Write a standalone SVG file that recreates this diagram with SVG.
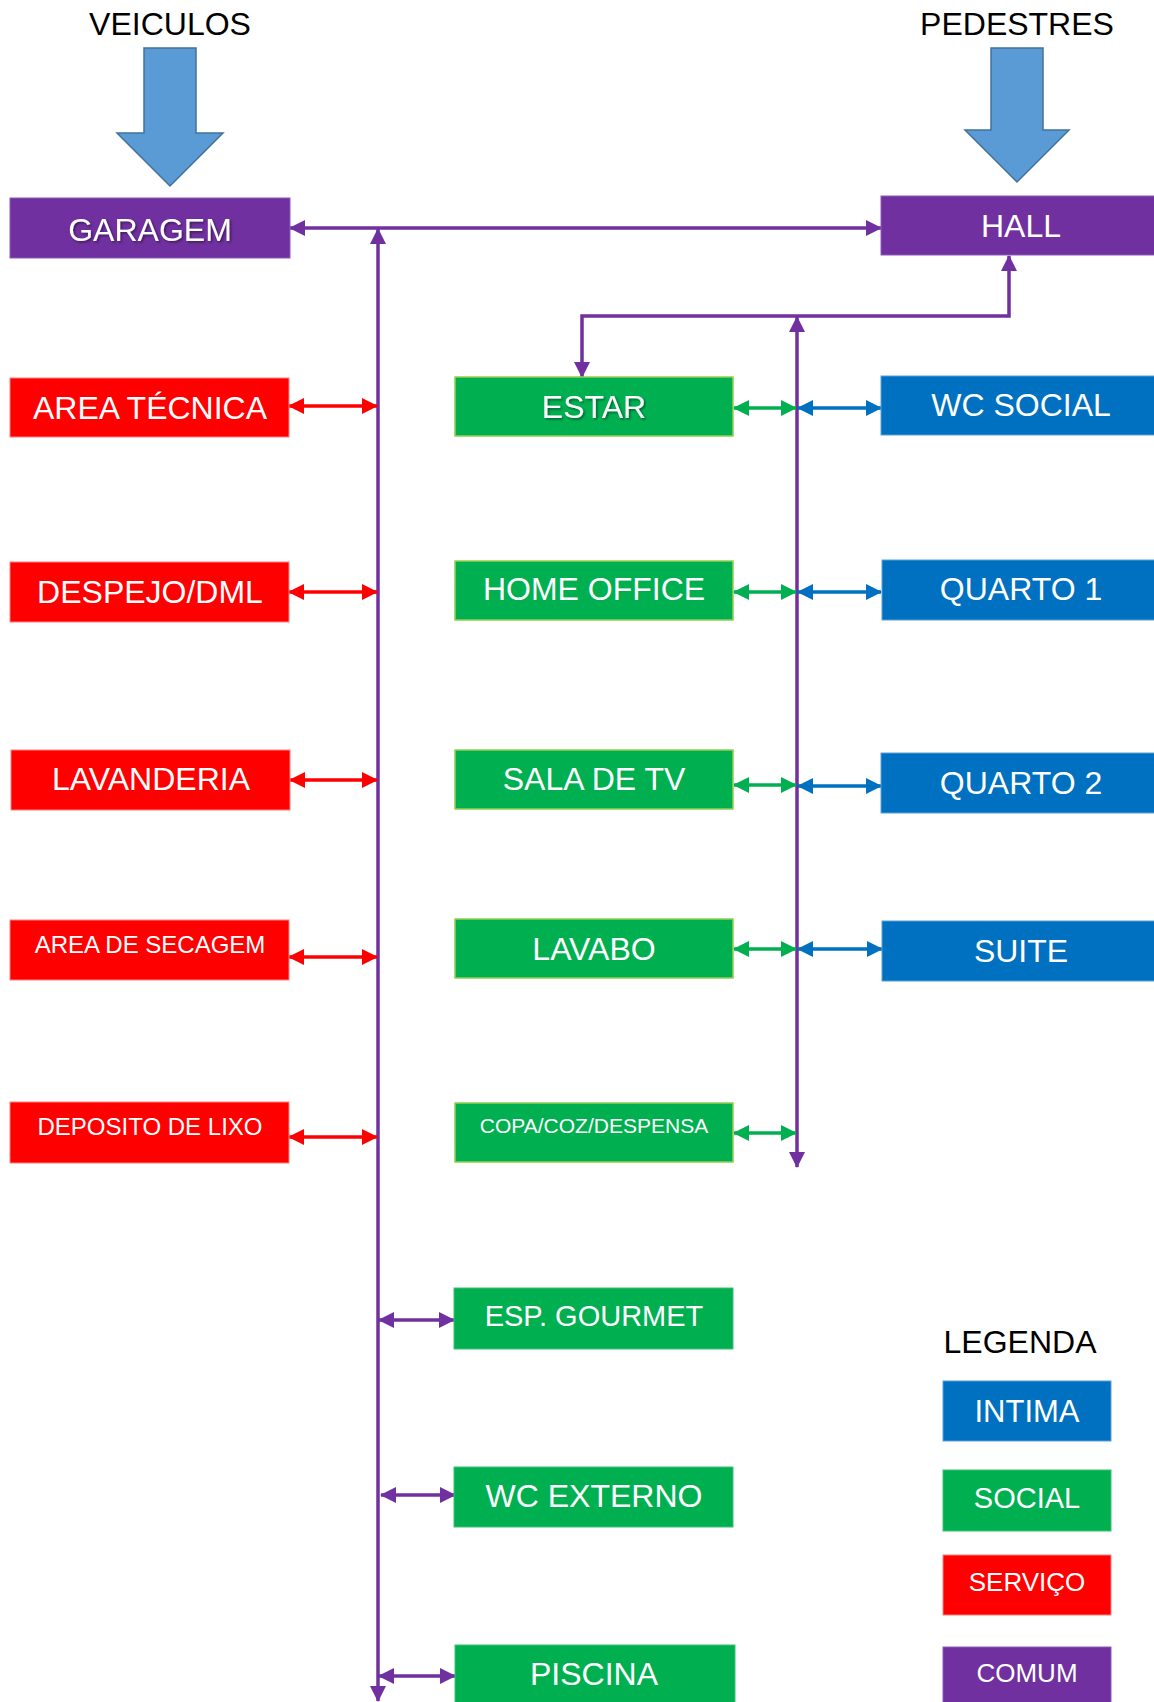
<svg xmlns="http://www.w3.org/2000/svg" width="1154" height="1702" viewBox="0 0 1154 1702">
<style>
text{font-family:"Liberation Sans",Arial,sans-serif;text-anchor:middle}
.lbl{fill:#fff;font-size:32px}
.hdr{fill:#000;font-size:32px}
.purple{fill:#7030A0;stroke:#8E5BB8;stroke-width:1}
.red{fill:#FF0000;stroke:#FF8080;stroke-width:1}
.green{fill:#00B050;stroke:#92D050;stroke-width:1.5}
.green2{fill:#00B050;stroke:#3CC070;stroke-width:1}
.blue{fill:#0070C0;stroke:#5A9FD6;stroke-width:1}
.bigarrow{fill:#5B9BD5;stroke:#41719C;stroke-width:1.5}
.cp{stroke:#7030A0;stroke-width:3.5;fill:none}
.cr{stroke:#FF0000;stroke-width:3.5;fill:none}
.cg{stroke:#00B050;stroke-width:3.5;fill:none}
.cb{stroke:#0070C0;stroke-width:3.5;fill:none}
</style>
<defs>
<marker id="mp" viewBox="0 0 16 16" refX="15" refY="8" markerWidth="16" markerHeight="16" markerUnits="userSpaceOnUse" orient="auto-start-reverse"><path d="M0,0 L16,8 L0,16 z" fill="#7030A0"/></marker>
<marker id="mr" viewBox="0 0 16 16" refX="15" refY="8" markerWidth="16" markerHeight="16" markerUnits="userSpaceOnUse" orient="auto-start-reverse"><path d="M0,0 L16,8 L0,16 z" fill="#FF0000"/></marker>
<marker id="mg" viewBox="0 0 16 16" refX="15" refY="8" markerWidth="16" markerHeight="16" markerUnits="userSpaceOnUse" orient="auto-start-reverse"><path d="M0,0 L16,8 L0,16 z" fill="#00B050"/></marker>
<marker id="mb" viewBox="0 0 16 16" refX="15" refY="8" markerWidth="16" markerHeight="16" markerUnits="userSpaceOnUse" orient="auto-start-reverse"><path d="M0,0 L16,8 L0,16 z" fill="#0070C0"/></marker>
<filter id="sh" x="-10%" y="-20%" width="120%" height="150%"><feDropShadow dx="1.5" dy="1.5" stdDeviation="0.8" flood-color="#000" flood-opacity="0.45"/></filter>
</defs>
<rect width="1154" height="1702" fill="#fff"/>

<g id="veiculos">
<text class="hdr" x="170" y="35">VEICULOS</text>
<polygon class="bigarrow" points="144,48 196,48 196,133 223,133 170,186 117,133 144,133"/>
</g>
<g id="pedestres">
<text class="hdr" x="1017" y="35">PEDESTRES</text>
<polygon class="bigarrow" points="991,48 1043,48 1043,130 1069,130 1017,182 965,130 991,130"/>
</g>

<g id="connectors">
<line class="cp" x1="290" y1="228" x2="881" y2="228" marker-start="url(#mp)" marker-end="url(#mp)"/>
<line class="cp" x1="378" y1="229" x2="378" y2="1701" marker-start="url(#mp)" marker-end="url(#mp)"/>
<path class="cp" d="M1009,256 V316 H582 V377" marker-start="url(#mp)" marker-end="url(#mp)"/>
<line class="cp" x1="797" y1="317" x2="797" y2="1167" marker-start="url(#mp)" marker-end="url(#mp)"/>
<line class="cr" x1="289" y1="406" x2="377" y2="406" marker-start="url(#mr)" marker-end="url(#mr)"/>
<line class="cr" x1="289" y1="592" x2="377" y2="592" marker-start="url(#mr)" marker-end="url(#mr)"/>
<line class="cr" x1="290" y1="780" x2="377" y2="780" marker-start="url(#mr)" marker-end="url(#mr)"/>
<line class="cr" x1="289" y1="957" x2="377" y2="957" marker-start="url(#mr)" marker-end="url(#mr)"/>
<line class="cr" x1="289" y1="1137" x2="377" y2="1137" marker-start="url(#mr)" marker-end="url(#mr)"/>
<line class="cg" x1="734" y1="408" x2="796" y2="408" marker-start="url(#mg)" marker-end="url(#mg)"/>
<line class="cg" x1="734" y1="592" x2="796" y2="592" marker-start="url(#mg)" marker-end="url(#mg)"/>
<line class="cg" x1="734" y1="785" x2="796" y2="785" marker-start="url(#mg)" marker-end="url(#mg)"/>
<line class="cg" x1="734" y1="949" x2="796" y2="949" marker-start="url(#mg)" marker-end="url(#mg)"/>
<line class="cg" x1="734" y1="1133" x2="796" y2="1133" marker-start="url(#mg)" marker-end="url(#mg)"/>
<line class="cb" x1="798" y1="408" x2="881" y2="408" marker-start="url(#mb)" marker-end="url(#mb)"/>
<line class="cb" x1="798" y1="592" x2="881" y2="592" marker-start="url(#mb)" marker-end="url(#mb)"/>
<line class="cb" x1="798" y1="786" x2="881" y2="786" marker-start="url(#mb)" marker-end="url(#mb)"/>
<line class="cb" x1="798" y1="949" x2="882" y2="949" marker-start="url(#mb)" marker-end="url(#mb)"/>
<line class="cp" x1="379" y1="1320" x2="454" y2="1320" marker-start="url(#mp)" marker-end="url(#mp)"/>
<line class="cp" x1="381" y1="1495" x2="455" y2="1495" marker-start="url(#mp)" marker-end="url(#mp)"/>
<line class="cp" x1="379" y1="1676" x2="455" y2="1676" marker-start="url(#mp)" marker-end="url(#mp)"/>
</g>

<g id="garagem"><rect class="purple" x="10" y="198" width="280" height="60"/><text class="lbl" x="150" y="241" filter="url(#sh)">GARAGEM</text></g>
<g id="hall"><rect class="purple" x="881" y="196" width="280" height="59"/><text class="lbl" x="1021" y="237">HALL</text></g>

<g id="area-tecnica"><rect class="red" x="10" y="378" width="279" height="59"/><text class="lbl" x="150" y="419">AREA TÉCNICA</text></g>
<g id="despejo"><rect class="red" x="10" y="562" width="279" height="60"/><text class="lbl" x="150" y="603">DESPEJO/DML</text></g>
<g id="lavanderia"><rect class="red" x="11" y="750" width="279" height="60"/><text class="lbl" x="151" y="790">LAVANDERIA</text></g>
<g id="area-secagem"><rect class="red" x="10" y="920" width="279" height="60"/><text class="lbl" x="150" y="953" style="font-size:24px">AREA DE SECAGEM</text></g>
<g id="deposito-lixo"><rect class="red" x="10" y="1102" width="279" height="61"/><text class="lbl" x="150" y="1135" style="font-size:24px">DEPOSITO DE LIXO</text></g>

<g id="estar"><rect class="green" x="455" y="377" width="278" height="59"/><text class="lbl" x="594" y="418" filter="url(#sh)">ESTAR</text></g>
<g id="home-office"><rect class="green" x="455" y="561" width="278" height="59"/><text class="lbl" x="594" y="600">HOME OFFICE</text></g>
<g id="sala-tv"><rect class="green" x="455" y="750" width="278" height="59"/><text class="lbl" x="594" y="790">SALA DE TV</text></g>
<g id="lavabo"><rect class="green" x="455" y="919" width="278" height="59"/><text class="lbl" x="594" y="960">LAVABO</text></g>
<g id="copa"><rect class="green" x="455" y="1103" width="278" height="59"/><text class="lbl" x="594" y="1133" style="font-size:21px">COPA/COZ/DESPENSA</text></g>
<g id="esp-gourmet"><rect class="green2" x="454" y="1288" width="279" height="61"/><text class="lbl" x="594" y="1326" style="font-size:29px">ESP. GOURMET</text></g>
<g id="wc-externo"><rect class="green2" x="454" y="1467" width="279" height="60"/><text class="lbl" x="594" y="1507">WC EXTERNO</text></g>
<g id="piscina"><rect class="green2" x="455" y="1645" width="280" height="60"/><text class="lbl" x="594" y="1685">PISCINA</text></g>

<g id="wc-social"><rect class="blue" x="881" y="376" width="280" height="59"/><text class="lbl" x="1021" y="416">WC SOCIAL</text></g>
<g id="quarto1"><rect class="blue" x="882" y="560" width="280" height="60"/><text class="lbl" x="1021" y="600">QUARTO 1</text></g>
<g id="quarto2"><rect class="blue" x="881" y="753" width="280" height="60"/><text class="lbl" x="1021" y="794">QUARTO 2</text></g>
<g id="suite"><rect class="blue" x="882" y="921" width="280" height="60"/><text class="lbl" x="1021" y="962">SUITE</text></g>

<g id="legenda">
<text class="hdr" x="1020" y="1353">LEGENDA</text>
<rect class="blue" x="943" y="1381" width="168" height="60"/><text class="lbl" x="1027" y="1422" style="font-size:31px">INTIMA</text>
<rect class="green2" x="943" y="1470" width="168" height="61"/><text class="lbl" x="1027" y="1508" style="font-size:29px">SOCIAL</text>
<rect class="red" x="943" y="1555" width="168" height="60"/><text class="lbl" x="1027" y="1591" style="font-size:26px">SERVIÇO</text>
<rect class="purple" x="943" y="1647" width="168" height="60"/><text class="lbl" x="1027" y="1682" style="font-size:26px">COMUM</text>
</g>
</svg>
